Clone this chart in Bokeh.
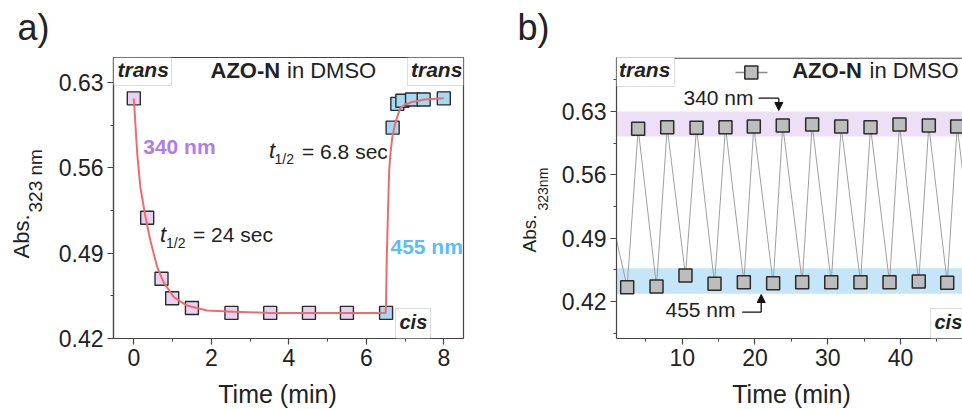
import numpy as np
from bokeh.plotting import figure
from bokeh.models import (Range1d, FixedTicker, PrintfTickFormatter, Label,
                          BoxAnnotation, Arrow, NormalHead, Span)
from bokeh.layouts import row, column
from bokeh.embed import file_html
from bokeh.resources import INLINE

# ---------------- panel a data ----------------
a_t_340 = [0.0, 0.345, 0.715, 0.99, 1.5, 2.52, 3.52, 4.52, 5.5]
a_abs_340 = [0.617, 0.519, 0.469, 0.453, 0.445, 0.441, 0.441, 0.441, 0.441]
a_t_455 = [6.51, 6.68, 6.80, 6.93, 7.18, 7.48, 8.0]
a_abs_455 = [0.441, 0.593, 0.6125, 0.615, 0.616, 0.616, 0.617]
a_fit_t = [0.0, 0.09, 0.17, 0.3, 0.43, 0.6, 0.77, 1.03, 1.37, 1.89, 2.58, 3.5,
           4.5, 5.5, 6.5, 6.51, 6.53, 6.56, 6.59, 6.63, 6.67, 6.72, 6.76,
           6.82, 6.88, 7.0, 7.18, 7.5, 8.0]
a_fit_abs = [0.617, 0.571, 0.544, 0.52, 0.50, 0.479, 0.466, 0.454, 0.447,
             0.443, 0.442, 0.441, 0.441, 0.441, 0.441, 0.45, 0.489, 0.525,
             0.558, 0.574, 0.585, 0.593, 0.598, 0.604, 0.609, 0.612, 0.614,
             0.616, 0.617]
a_xticks = [0, 2, 4, 6, 8]
a_xminor = [1, 3, 5, 7]
a_yticks = [0.42, 0.49, 0.56, 0.63]
a_yminor = [0.455, 0.525, 0.595]

# ---------------- panel b data ----------------
b_t = [-2.5, 2.44, 3.95, 6.47, 7.94, 10.45, 11.97, 14.44, 15.95, 18.47, 19.84,
       22.5, 23.82, 26.49, 27.86, 30.48, 31.85, 34.5, 35.88, 38.49, 39.86,
       42.51, 43.89, 46.42, 47.79, 50.4]
b_abs = [0.611, 0.4358, 0.6109, 0.4366, 0.6127, 0.4487, 0.612, 0.4396, 0.6127,
         0.4413, 0.6134, 0.4402, 0.6145, 0.4413, 0.6156, 0.4413, 0.6134,
         0.4413, 0.6127, 0.4413, 0.6156, 0.4421, 0.6145, 0.4407, 0.6134, 0.441]
b_band_340 = (0.6024, 0.630)
b_band_455 = (0.4285, 0.4568)
b_xticks = [10, 20, 30, 40]
b_xminor = [5, 15, 25, 35, 45]
b_yticks = [0.42, 0.49, 0.56, 0.63]
b_yminor = [0.385, 0.455, 0.525, 0.595, 0.665]

FONT = "Liberation Sans"
TXT = "#222222"
AXC = "#444444"
PURPLE_T = "#b27ce8"
BLUE_T = "#5bbdf0"
K_BASE = 0.4        # empirical baseline correction (fraction of font size)

TOP_H = 380          # height of the row holding the two panels
# frame geometry (page pixels)
A_L, A_R, A_T, A_B = 113, 463, 57, 338
A_X = (-0.524, 8.508)
A_Y = (0.42, 0.6505)
B_L, B_R, B_T, B_B = 616, 962, 57, 338
B_X = (0.972, 48.52)
B_Y = (0.3791, 0.6897)
STRIP_A = (0, 53)
STRIP_B = (480, 556)


def ax(px):
    return A_X[0] + (px - A_L) * (A_X[1] - A_X[0]) / (A_R - A_L)


def ay(py):
    return A_Y[1] - (py - A_T) * (A_Y[1] - A_Y[0]) / (A_B - A_T)


def bx(px):
    return B_X[0] + (px - B_L) * (B_X[1] - B_X[0]) / (B_R - B_L)


def by(py):
    return B_Y[1] - (py - B_T) * (B_Y[1] - B_Y[0]) / (B_B - B_T)


def ident(v):
    return v


def lab(p, fx, fy, px, py, text, size, style="normal", color=TXT,
        align="left", rotated=False):
    """Place text whose baseline starts at page pixel (px, py)."""
    if rotated:
        x, y, ang = fx(px - K_BASE * size), fy(py), np.pi / 2
    else:
        x, y, ang = fx(px), fy(py - K_BASE * size), 0.0
    p.add_layout(Label(x=x, y=y, text=text, text_font=FONT,
                       text_font_size=f"{size}px", text_font_style=style,
                       text_color=color, text_align=align,
                       text_baseline="alphabetic", angle=ang))


def box(p, l, r, t, b):
    p.add_layout(BoxAnnotation(left=l, right=r, top=t, bottom=b,
                               fill_color="white", fill_alpha=1.0,
                               line_color="#8a8a8a", line_width=1))


def strip(x0, x1, y0, y1):
    s = figure(width=x1 - x0, height=y1 - y0, x_range=Range1d(x0, x1),
               y_range=Range1d(y1, y0), output_backend="svg",
               toolbar_location=None, x_axis_type=None, y_axis_type=None,
               min_border_left=0, min_border_right=0, min_border_top=0,
               min_border_bottom=0, frame_align=False)
    s.outline_line_color = None
    return s


def style_axes(p, xt, xm, yt, ym):
    p.xaxis.ticker = FixedTicker(ticks=xt, minor_ticks=xm)
    p.yaxis.ticker = FixedTicker(ticks=yt, minor_ticks=ym)
    p.xaxis.formatter = PrintfTickFormatter(format="%d")
    p.yaxis.formatter = PrintfTickFormatter(format="%.2f")
    for a in (p.xaxis, p.yaxis):
        a.axis_line_color = AXC
        a.axis_line_width = 1.2
        a.major_tick_line_color = AXC
        a.major_tick_line_width = 1.2
        a.minor_tick_line_color = AXC
        a.major_tick_out = 6
        a.major_tick_in = 0
        a.minor_tick_out = 3
        a.minor_tick_in = 0
        a.major_label_text_font = FONT
        a.major_label_text_font_size = "23px"
        a.major_label_text_color = TXT
    p.xaxis.major_label_standoff = 4
    p.yaxis.major_label_standoff = 4
    p.xgrid.visible = False
    p.ygrid.visible = False


# ================= panel a =================
pa = figure(width=480 - STRIP_A[1], height=TOP_H, x_range=Range1d(*A_X),
            y_range=Range1d(*A_Y), output_backend="svg", toolbar_location=None,
            min_border_left=A_L - STRIP_A[1], min_border_right=480 - A_R,
            min_border_top=A_T, min_border_bottom=TOP_H - A_B,
            frame_align=False)
pa.outline_line_color = AXC
pa.outline_line_width = 1.2
style_axes(pa, a_xticks, a_xminor, a_yticks, a_yminor)

pa.scatter(a_t_340, a_abs_340, marker="square", size=13, fill_color="#e6d3f1",
           line_color="#2b2b2b", line_width=1.4)
pa.scatter(a_t_455, a_abs_455, marker="square", size=13, fill_color="#a6d9f4",
           line_color="#2b2b2b", line_width=1.4)
pa.line(a_fit_t, a_fit_abs, line_color="#f06c6c", line_width=2)

box(pa, ax(113), ax(171), ay(57), ay(85))
lab(pa, ax, ay, 117, 77, "trans", 21, "bold italic")
box(pa, ax(407), ax(463), ay(57), ay(85))
lab(pa, ax, ay, 410.5, 77, "trans", 21, "bold italic")
box(pa, ax(395), ax(430), ay(308), ay(338))
lab(pa, ax, ay, 399, 329.5, "cis", 20, "bold italic")
lab(pa, ax, ay, 210, 78.3, "AZO-N", 22, "bold")
lab(pa, ax, ay, 286.5, 78.3, "in DMSO", 22)
lab(pa, ax, ay, 142.7, 154, "340 nm", 21, "bold", PURPLE_T)
lab(pa, ax, ay, 390, 254, "455 nm", 21, "bold", BLUE_T)
lab(pa, ax, ay, 268.5, 159, "t", 22, "italic")
lab(pa, ax, ay, 274, 164.5, "1/2", 14)
lab(pa, ax, ay, 301.5, 159, "= 6.8 sec", 21)
lab(pa, ax, ay, 159.5, 242.7, "t", 22, "italic")
lab(pa, ax, ay, 165.5, 248, "1/2", 14)
lab(pa, ax, ay, 192.5, 242.7, "= 24 sec", 21)

# ================= panel b =================
pb = figure(width=962 - STRIP_B[1], height=TOP_H, x_range=Range1d(*B_X),
            y_range=Range1d(*B_Y), output_backend="svg", toolbar_location=None,
            min_border_left=B_L - STRIP_B[1], min_border_right=0,
            min_border_top=B_T, min_border_bottom=TOP_H - B_B,
            frame_align=False)
pb.outline_line_color = None
style_axes(pb, b_xticks, b_xminor, b_yticks, b_yminor)
pb.add_layout(Span(location=by(57.6), dimension="width", line_color=AXC,
                   line_width=1.2))

pb.add_layout(BoxAnnotation(bottom=b_band_340[0], top=b_band_340[1],
                            fill_color="#ecdff6", fill_alpha=1.0,
                            line_color=None, level="underlay"))
pb.add_layout(BoxAnnotation(bottom=b_band_455[0], top=b_band_455[1],
                            fill_color="#c5e6f8", fill_alpha=1.0,
                            line_color=None, level="underlay"))

pb.line(b_t, b_abs, line_color="#a0a0a0", line_width=1)
pb.scatter(b_t, b_abs, marker="square", size=13, fill_color="#bdbdbd",
           line_color="#2b2b2b", line_width=1.5)

# legend
pb.line([bx(735), bx(746)], [by(72), by(72)], line_color="#8c8c8c", line_width=1.3)
pb.line([bx(756), bx(767)], [by(72), by(72)], line_color="#8c8c8c", line_width=1.3)
pb.scatter([bx(750.8)], [by(72)], marker="square", size=13, fill_color="#bdbdbd",
           line_color="#2b2b2b", line_width=1.5)
lab(pb, bx, by, 791.7, 78.3, "AZO-N", 22, "bold")
lab(pb, bx, by, 869, 78.3, "in DMSO", 22)

box(pb, bx(616), bx(674), by(57), by(86))
lab(pb, bx, by, 618.5, 77, "trans", 21, "bold italic")
box(pb, bx(930), bx(1000), by(308), by(338))
lab(pb, bx, by, 934, 329.5, "cis", 20, "bold italic")

lab(pb, bx, by, 683, 105, "340 nm", 21)
pb.add_layout(Arrow(end=None, x_start=bx(758), y_start=by(97.7),
                    x_end=bx(778.3), y_end=by(97.7), line_color="#111111",
                    line_width=1.3))
pb.add_layout(Arrow(end=NormalHead(size=8, fill_color="#111111", line_color="#111111"),
                    x_start=bx(778.3), y_start=by(97.7),
                    x_end=bx(778.3), y_end=by(110), line_color="#111111",
                    line_width=1.3))
lab(pb, bx, by, 665, 317.5, "455 nm", 21)
pb.add_layout(Arrow(end=None, x_start=bx(741.7), y_start=by(311.7),
                    x_end=bx(760.7), y_end=by(311.7), line_color="#111111",
                    line_width=1.3))
pb.add_layout(Arrow(end=NormalHead(size=8, fill_color="#111111", line_color="#111111"),
                    x_start=bx(760.7), y_start=by(311.7),
                    x_end=bx(760.7), y_end=by(294), line_color="#111111",
                    line_width=1.3))

# ================= text strips (page-pixel coordinates) =================
sa = strip(STRIP_A[0], STRIP_A[1], 0, TOP_H)
lab(sa, ident, ident, 17, 41.7, "a)", 36)
lab(sa, ident, ident, 30, 258, "Abs.", 22, rotated=True)
lab(sa, ident, ident, 43, 212, "323 nm", 19, rotated=True)

sb = strip(STRIP_B[0], STRIP_B[1], 0, TOP_H)
lab(sb, ident, ident, 517, 41.7, "b)", 36)
lab(sb, ident, ident, 536.7, 252, "Abs.", 19, rotated=True)
lab(sb, ident, ident, 548.3, 210, "323nm", 14, rotated=True)

sbot = strip(0, 962, TOP_H, 409)
lab(sbot, ident, ident, 277, 403, "Time (min)", 25, align="center")
lab(sbot, ident, ident, 791, 403, "Time (min)", 25, align="center")

layout = column(row(sa, pa, sb, pb), sbot)
open("out.html", "w").write(file_html(layout, INLINE))
